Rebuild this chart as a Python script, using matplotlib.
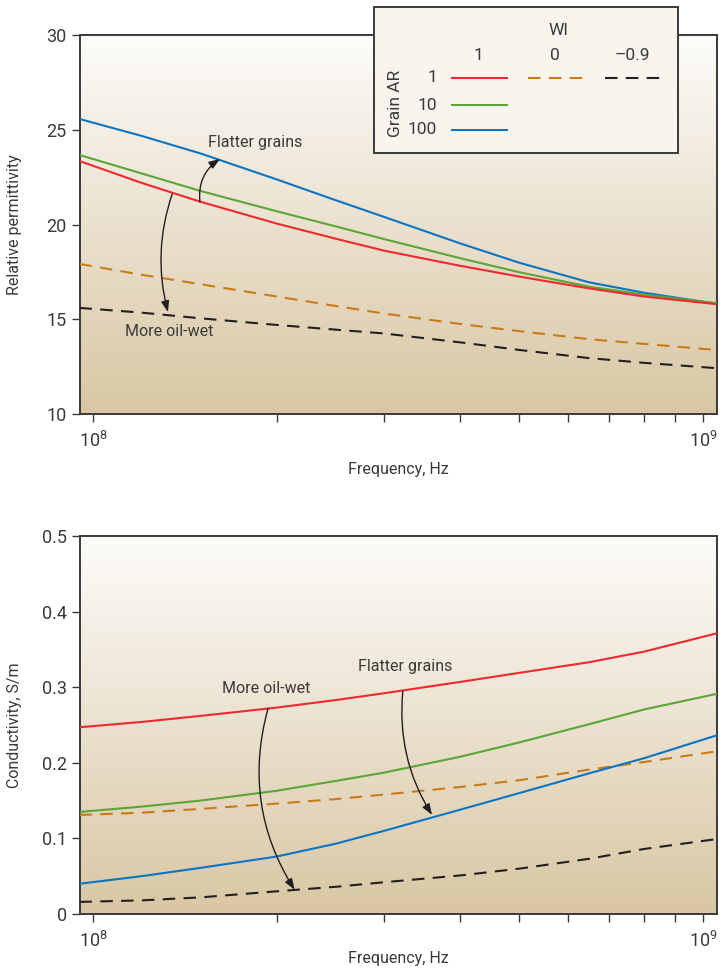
import numpy as np
import matplotlib
matplotlib.use("Agg")
import matplotlib.pyplot as plt
from matplotlib.colors import LinearSegmentedColormap
from matplotlib.lines import Line2D
from matplotlib.patches import Rectangle
from matplotlib.ticker import LogLocator, FixedFormatter, FixedLocator

plt.rcParams["font.family"] = ["Roboto", "DejaVu Sans"]
plt.rcParams["mathtext.fontset"] = "custom"
plt.rcParams["mathtext.rm"] = "Roboto"
plt.rcParams["mathtext.it"] = "Roboto"

# frequency grid, Hz
freq = [0.95e8, 1.2e8, 1.5e8, 2e8, 2.5e8, 3e8, 4e8, 5e8, 6.5e8, 8e8, 1.05e9]

# relative permittivity
perm_ar1 = [23.35, 22.2, 21.2, 20.05, 19.25, 18.62, 17.82, 17.25, 16.63, 16.2, 15.8]
perm_ar10 = [23.67, 22.7, 21.77, 20.7, 19.9, 19.23, 18.22, 17.48, 16.72, 16.3, 15.85]
perm_ar100 = [25.57, 24.68, 23.75, 22.38, 21.28, 20.4, 19.0, 17.98, 16.95, 16.4, 15.82]
perm_wi0 = [17.92, 17.35, 16.85, 16.2, 15.7, 15.3, 14.75, 14.37, 13.95, 13.7, 13.38]
perm_wim09 = [15.6, 15.35, 15.05, 14.7, 14.45, 14.25, 13.78, 13.38, 12.95, 12.7, 12.42]

# conductivity, S/m
cond_ar1 = [0.247, 0.254, 0.262, 0.273, 0.283, 0.292, 0.307, 0.319, 0.333, 0.347, 0.371]
cond_ar10 = [0.135, 0.142, 0.15, 0.163, 0.176, 0.187, 0.208, 0.227, 0.251, 0.2705, 0.291]
cond_ar100 = [0.04, 0.05, 0.061, 0.076, 0.093, 0.11, 0.138, 0.16, 0.186, 0.206, 0.236]
cond_wi0 = [0.131, 0.134, 0.139, 0.146, 0.152, 0.158, 0.168, 0.177, 0.191, 0.201, 0.215]
cond_wim09 = [0.016, 0.018, 0.022, 0.03, 0.036, 0.042, 0.051, 0.06, 0.073, 0.086, 0.099]

wi_labels = ["1", "0", "\u20130.9"]
ar_labels = ["1", "10", "100"]

RED = "#ee2a2e"
GREEN = "#5ba638"
BLUE = "#0b75c4"
ORANGE = "#c97b1c"
BLACK = "#231f20"
TXT = "#3a3a3a"

bg = LinearSegmentedColormap.from_list("bg", ["#fdfcfa", "#ebe1cf", "#d9c7a3"])

fig = plt.figure(figsize=(7.21, 9.75), dpi=100)
ax1 = fig.add_axes([80 / 721, 1 - 414 / 975, 637 / 721, 379 / 975])
ax2 = fig.add_axes([80 / 721, 1 - 914 / 975, 637 / 721, 378 / 975])


def style_axes(ax, ylim, yticks, ylabel, xpad):
    ax.set_xscale("log")
    grad = np.linspace(0, 1, 256).reshape(-1, 1)
    ax.imshow(grad, cmap=bg, extent=[0, 1, 0, 1], transform=ax.transAxes,
              aspect="auto", zorder=0, origin="upper")
    ax.set_xlim(0.952e8, 1.054e9)
    ax.set_ylim(*ylim)
    ax.set_yticks(yticks)
    ax.xaxis.set_major_locator(FixedLocator([1e8, 1e9]))
    ax.xaxis.set_major_formatter(FixedFormatter([r"$\mathregular{10^8}$", r"$\mathregular{10^9}$"]))
    ax.xaxis.set_minor_locator(LogLocator(base=10, subs=np.arange(2, 10)))
    ax.xaxis.set_minor_formatter(FixedFormatter([]))
    for s in ax.spines.values():
        s.set_color(TXT)
        s.set_linewidth(1.4)
    ax.tick_params(which="both", direction="out", length=6, width=1, color=TXT,
                   labelsize=13, labelcolor=TXT, top=False, right=False)
    ax.tick_params(axis="x", pad=6)
    ax.set_xlabel("Frequency, Hz", fontsize=11.5, color=TXT, labelpad=xpad)
    ax.set_ylabel(ylabel, fontsize=11.5, color=TXT)
    ax.yaxis.set_label_coords(-0.091, 0.5)


def draw_curves(ax, ar1, ar10, ar100, wi0, wim09):
    kw = dict(lw=1.5, zorder=3)
    ax.plot(freq, wim09, color=BLACK, dashes=(6, 4), **kw)
    ax.plot(freq, wi0, color=ORANGE, dashes=(6, 4), **kw)
    ax.plot(freq, ar100, color=BLUE, **kw)
    ax.plot(freq, ar10, color=GREEN, **kw)
    ax.plot(freq, ar1, color=RED, **kw)


def arrow(ax, start, end, rad):
    ax.annotate("", xy=end, xytext=start,
                arrowprops=dict(arrowstyle="-|>,head_length=0.55,head_width=0.2",
                                connectionstyle=f"arc3,rad={rad}", color=BLACK,
                                lw=1, mutation_scale=12, shrinkA=0, shrinkB=0),
                zorder=4)


style_axes(ax1, (10, 30), [10, 15, 20, 25, 30], "Relative permittivity", 8)
draw_curves(ax1, perm_ar1, perm_ar10, perm_ar100, perm_wi0, perm_wim09)
ax1.text(1.545e8, 24.35, "Flatter grains", fontsize=11.5, color=TXT, va="center", zorder=5)
ax1.text(1.128e8, 14.33, "More oil-wet", fontsize=11.5, color=TXT, va="center", zorder=5)
arrow(ax1, (1.497e8, 21.19), (1.615e8, 23.46), -0.3)
arrow(ax1, (1.348e8, 21.6), (1.327e8, 15.38), 0.15)

style_axes(ax2, (0, 0.5), [0, 0.1, 0.2, 0.3, 0.4, 0.5], "Conductivity, S/m", 0)
ax2.set_yticklabels(["0", "0.1", "0.2", "0.3", "0.4", "0.5"])
draw_curves(ax2, cond_ar1, cond_ar10, cond_ar100, cond_wi0, cond_wim09)
ax2.text(1.628e8, 0.298, "More oil-wet", fontsize=11.5, color=TXT, va="center", zorder=5)
ax2.text(2.72e8, 0.327, "Flatter grains", fontsize=11.5, color=TXT, va="center", zorder=5)
arrow(ax2, (1.936e8, 0.272), (2.14e8, 0.032), 0.22)
arrow(ax2, (3.22e8, 0.295), (3.595e8, 0.131), 0.17)

# legend box drawn in its own pixel-like frame
lg = fig.add_axes([374 / 721, 1 - 153 / 975, 304 / 721, 146 / 975])
lg.set_xlim(0, 304)
lg.set_ylim(146, 0)
lg.axis("off")
lg.add_patch(Rectangle((0, 0), 304, 146, facecolor="#f8f5ef", edgecolor=TXT,
                       lw=1.4, clip_on=False))
lg.text(184, 23, "WI", fontsize=12.5, color=TXT, ha="center", va="center")
for x, lab in zip([104, 181, 258], wi_labels):
    lg.text(x, 48, lab, fontsize=12.5, color=TXT, ha="center", va="center")
for y, lab in zip([71, 98, 123], ar_labels):
    lg.text(63, y, lab, fontsize=12.5, color=TXT, ha="right", va="center")
lg.text(21, 96, "Grain AR", fontsize=12.5, color=TXT, ha="center", va="center", rotation=90)
lg.add_line(Line2D([78, 133], [71, 71], color=RED, lw=1.5))
lg.add_line(Line2D([78, 133], [98, 98], color=GREEN, lw=1.5))
lg.add_line(Line2D([78, 133], [123, 123], color=BLUE, lw=1.5))
lg.add_line(Line2D([154, 209], [71, 71], color=ORANGE, lw=1.5, dashes=(6, 4)))
lg.add_line(Line2D([231, 286], [71, 71], color=BLACK, lw=1.5, dashes=(6, 4)))

fig.savefig("out.png", dpi=100)
